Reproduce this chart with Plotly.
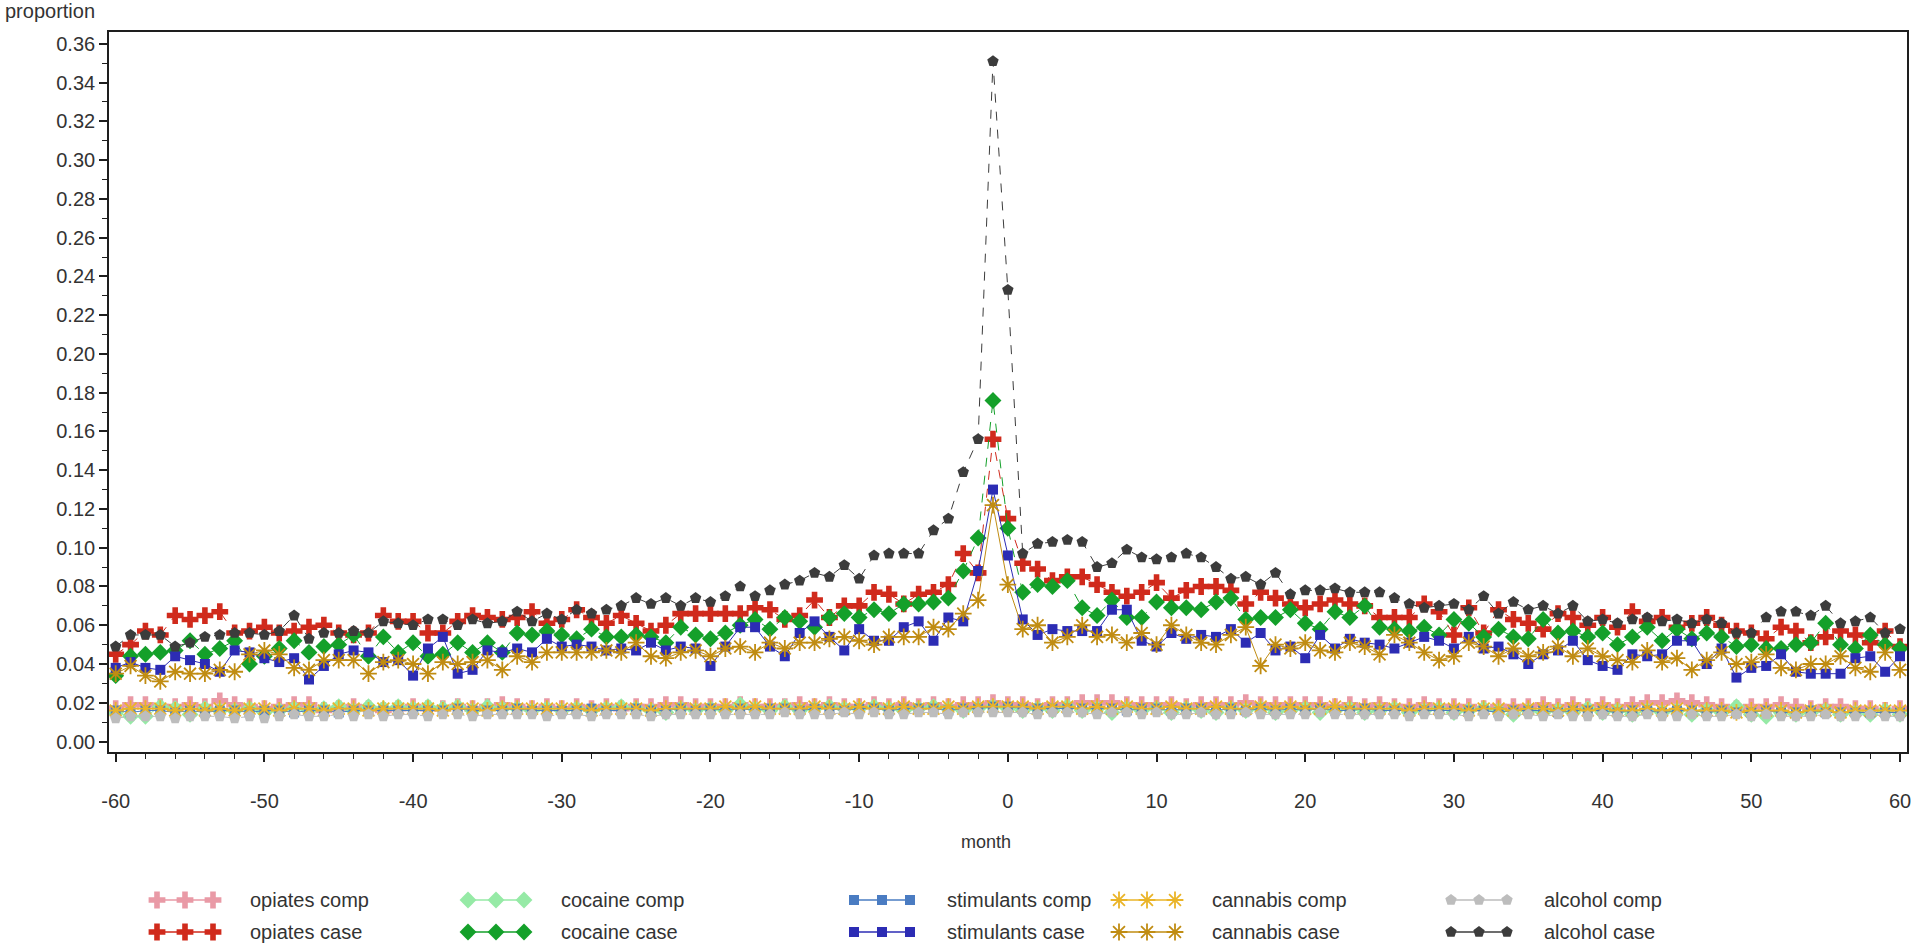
import plotly.graph_objects as go

months = list(range(-60, 61))

# ---------- case series ----------
opiates_case = [
    0.045, 0.050, 0.057, 0.055, 0.065, 0.063, 0.065, 0.067, 0.056, 0.057,
    0.059, 0.056, 0.057, 0.059, 0.060, 0.056, 0.055, 0.056, 0.065, 0.062,
    0.062, 0.056, 0.056, 0.062, 0.065, 0.064, 0.063, 0.064, 0.067, 0.061,
    0.063, 0.068, 0.064, 0.061, 0.065, 0.061, 0.057, 0.060, 0.066, 0.066,
    0.066,
    0.066, 0.066, 0.069, 0.068, 0.063, 0.065, 0.073, 0.064, 0.070, 0.070,
    0.077, 0.076, 0.071, 0.076, 0.077, 0.081, 0.097, 0.087, 0.156,
    0.115, 0.092, 0.089, 0.083, 0.085, 0.085, 0.081, 0.077, 0.075, 0.077,
    0.082, 0.074, 0.078, 0.080, 0.080, 0.078, 0.071, 0.077, 0.074, 0.071,
    0.069,
    0.071, 0.073, 0.071, 0.070, 0.064, 0.064, 0.064, 0.071, 0.067, 0.055,
    0.069, 0.056, 0.068, 0.063, 0.061, 0.058, 0.066, 0.064, 0.060, 0.064,
    0.059, 0.067, 0.062, 0.064, 0.059, 0.061, 0.064, 0.060, 0.057, 0.056,
    0.053, 0.059, 0.057, 0.051, 0.054, 0.057, 0.055, 0.051, 0.057, 0.049,
]

cocaine_case = [
    0.034, 0.044, 0.045, 0.046, 0.047, 0.052, 0.045, 0.048, 0.052, 0.040,
    0.044, 0.048, 0.052, 0.046, 0.049, 0.050, 0.055, 0.044, 0.054, 0.046,
    0.051, 0.044, 0.045, 0.051, 0.046, 0.051, 0.046, 0.056,
    0.055, 0.057, 0.055, 0.053, 0.058, 0.054, 0.054, 0.055, 0.054, 0.051,
    0.059, 0.055, 0.053,
    0.056, 0.060, 0.063, 0.058, 0.064, 0.062, 0.059, 0.064, 0.066, 0.064,
    0.068, 0.066, 0.071, 0.071, 0.072, 0.074, 0.088, 0.105, 0.176,
    0.110, 0.077, 0.081, 0.080, 0.083, 0.069, 0.065, 0.073, 0.064, 0.064,
    0.072, 0.069, 0.069, 0.068, 0.072, 0.074, 0.063, 0.064, 0.064, 0.068,
    0.061,
    0.058, 0.067, 0.064, 0.070, 0.059, 0.058, 0.057, 0.059, 0.055, 0.063,
    0.061, 0.054, 0.058, 0.054, 0.053, 0.063, 0.056, 0.057, 0.054, 0.056,
    0.050, 0.054, 0.059, 0.052, 0.058, 0.053, 0.056, 0.054, 0.049, 0.050,
    0.048, 0.048, 0.050, 0.051, 0.061, 0.050, 0.048, 0.055, 0.050, 0.048,
]

stimulants_case = [
    0.038, 0.041, 0.038, 0.037, 0.044, 0.042, 0.040, 0.036, 0.047, 0.046,
    0.043, 0.041, 0.043, 0.032, 0.039, 0.045, 0.047, 0.046, 0.041, 0.042,
    0.034, 0.048, 0.054, 0.035, 0.037, 0.047, 0.046, 0.048, 0.046, 0.053,
    0.049, 0.050, 0.049, 0.047, 0.048, 0.047, 0.051, 0.047, 0.049, 0.048,
    0.039,
    0.049, 0.059, 0.059, 0.049, 0.044, 0.056, 0.062, 0.054, 0.047, 0.058,
    0.052, 0.052, 0.059, 0.062, 0.052, 0.064, 0.062, 0.088, 0.130,
    0.096, 0.063, 0.055, 0.058, 0.057, 0.057, 0.057, 0.068, 0.068, 0.052,
    0.049, 0.056, 0.053, 0.055, 0.054, 0.058, 0.051, 0.056, 0.047, 0.049,
    0.043,
    0.055, 0.048, 0.053, 0.051, 0.050, 0.048, 0.051, 0.054, 0.052, 0.048,
    0.054, 0.048, 0.049, 0.045, 0.040, 0.045, 0.047, 0.052, 0.042, 0.039,
    0.037, 0.045, 0.044, 0.045, 0.052, 0.052, 0.040, 0.048, 0.033, 0.038,
    0.039, 0.045, 0.036, 0.035, 0.035, 0.035, 0.043, 0.044, 0.036, 0.044,
]

cannabis_case = [
    0.035, 0.039, 0.034, 0.031, 0.036, 0.035, 0.035, 0.037, 0.036, 0.045,
    0.047, 0.045, 0.038, 0.037, 0.042, 0.042, 0.042, 0.035, 0.041, 0.042,
    0.040, 0.035, 0.041, 0.040, 0.041, 0.042, 0.037, 0.044,
    0.041, 0.046, 0.046, 0.046, 0.046, 0.047, 0.046, 0.051, 0.044, 0.043,
    0.046, 0.047, 0.044,
    0.048, 0.049, 0.046, 0.051, 0.048, 0.051, 0.051, 0.053, 0.054, 0.052,
    0.050, 0.054, 0.054, 0.054, 0.059, 0.058, 0.066, 0.073, 0.122,
    0.081, 0.058, 0.060, 0.051, 0.054, 0.060, 0.054, 0.055, 0.051, 0.056,
    0.050, 0.060, 0.055, 0.051, 0.050, 0.055, 0.059, 0.039, 0.050, 0.048,
    0.051,
    0.047, 0.046, 0.051, 0.049, 0.045, 0.055, 0.051, 0.046, 0.042, 0.044,
    0.051, 0.049, 0.044, 0.048, 0.044, 0.046, 0.049, 0.044, 0.048, 0.044,
    0.042, 0.041, 0.047, 0.041, 0.043, 0.037, 0.042, 0.046, 0.040, 0.041,
    0.045, 0.038, 0.037, 0.040, 0.040, 0.044, 0.038, 0.036, 0.046, 0.037,
]

alcohol_case = [
    0.049, 0.055, 0.055, 0.055, 0.049, 0.051, 0.054, 0.055, 0.056, 0.056,
    0.055, 0.057, 0.065, 0.053, 0.056, 0.056, 0.057, 0.056, 0.062, 0.061,
    0.060, 0.063, 0.063, 0.060, 0.063, 0.061, 0.062, 0.067, 0.062, 0.066,
    0.063, 0.068, 0.066, 0.068, 0.070, 0.074, 0.071, 0.074, 0.070, 0.074,
    0.072,
    0.075, 0.080, 0.075, 0.078, 0.081, 0.083, 0.087, 0.085, 0.091, 0.084,
    0.096, 0.097, 0.097, 0.097, 0.109, 0.115, 0.139, 0.156, 0.351,
    0.233, 0.097, 0.102, 0.103, 0.104, 0.103, 0.090, 0.092, 0.099, 0.095,
    0.094, 0.095, 0.097, 0.095, 0.090, 0.084, 0.085, 0.081, 0.087, 0.076,
    0.078,
    0.078, 0.079, 0.077, 0.077, 0.077, 0.074, 0.071, 0.069, 0.070, 0.071,
    0.068, 0.075, 0.066, 0.072, 0.068, 0.070, 0.066, 0.070, 0.062, 0.063,
    0.061, 0.063, 0.064, 0.062, 0.063, 0.061, 0.063, 0.061, 0.056, 0.056,
    0.064, 0.067, 0.067, 0.065, 0.070, 0.061, 0.062, 0.064, 0.056, 0.058,
]

# ---------- comparison series ----------
opiates_comp = [
    0.017, 0.019, 0.019, 0.018, 0.018, 0.019, 0.018, 0.021, 0.019, 0.018,
    0.017, 0.018, 0.019, 0.019, 0.016, 0.017, 0.018, 0.017, 0.016, 0.017,
    0.018, 0.017, 0.017, 0.018, 0.017, 0.018, 0.019, 0.018, 0.017, 0.018,
    0.017, 0.018, 0.017, 0.018, 0.017, 0.018, 0.018, 0.019, 0.019, 0.018,
    0.018, 0.018, 0.019, 0.018, 0.018, 0.018, 0.019, 0.018, 0.019, 0.018,
    0.018, 0.019, 0.018, 0.019, 0.018, 0.019, 0.018, 0.019, 0.019, 0.020,
    0.019, 0.019, 0.018, 0.019, 0.019, 0.020, 0.020, 0.020, 0.019, 0.019,
    0.019, 0.019, 0.018, 0.019, 0.019, 0.019, 0.020, 0.019, 0.019, 0.019,
    0.019, 0.019, 0.018, 0.019, 0.018, 0.019, 0.018, 0.018, 0.019, 0.018,
    0.018, 0.018, 0.017, 0.018, 0.018, 0.018, 0.019, 0.018, 0.019, 0.018,
    0.019, 0.018, 0.019, 0.020, 0.020, 0.021, 0.020, 0.019, 0.018, 0.017,
    0.018, 0.018, 0.019, 0.018, 0.017, 0.018, 0.018, 0.017, 0.017, 0.016,
    0.017,
]

cocaine_comp = [
    0.015, 0.013, 0.013, 0.018, 0.017, 0.014, 0.017, 0.016, 0.016, 0.017,
    0.015, 0.016, 0.017, 0.016, 0.017, 0.018, 0.016, 0.018, 0.017, 0.018,
    0.017, 0.018, 0.017, 0.018, 0.016, 0.018, 0.017, 0.017, 0.016, 0.017,
    0.016, 0.017, 0.016, 0.017, 0.018, 0.017, 0.016, 0.015, 0.017, 0.016,
    0.017, 0.016, 0.019, 0.017, 0.016, 0.018, 0.016, 0.017, 0.018, 0.017,
    0.017, 0.018, 0.017, 0.016, 0.017, 0.018, 0.017, 0.016, 0.017, 0.018,
    0.017, 0.016, 0.017, 0.016, 0.018, 0.016, 0.017, 0.015, 0.017, 0.016,
    0.017, 0.015, 0.017, 0.016, 0.015, 0.017, 0.016, 0.017, 0.015, 0.016,
    0.017, 0.015, 0.016, 0.017, 0.015, 0.016, 0.017, 0.015, 0.016, 0.017,
    0.015, 0.016, 0.017, 0.016, 0.014, 0.016, 0.015, 0.016, 0.015, 0.017,
    0.015, 0.016, 0.014, 0.016, 0.015, 0.016, 0.014, 0.016, 0.015, 0.018,
    0.014, 0.013, 0.015, 0.014, 0.015, 0.016, 0.014, 0.015, 0.014, 0.016,
    0.014,
]

stimulants_comp = [
    0.016, 0.015, 0.016, 0.016, 0.015, 0.016, 0.015, 0.016, 0.016, 0.015,
    0.016, 0.016, 0.015, 0.016, 0.016, 0.015, 0.016, 0.016, 0.016, 0.016,
    0.016, 0.016, 0.016, 0.017, 0.016, 0.016, 0.016, 0.017, 0.016, 0.016,
    0.016, 0.016, 0.017, 0.016, 0.016, 0.017, 0.016, 0.016, 0.017, 0.016,
    0.017, 0.016, 0.017, 0.016, 0.017, 0.017, 0.016, 0.017, 0.017, 0.016,
    0.017, 0.017, 0.016, 0.017, 0.017, 0.017, 0.016, 0.017, 0.017, 0.018,
    0.018, 0.017, 0.017, 0.017, 0.017, 0.017, 0.017, 0.017, 0.016, 0.017,
    0.017, 0.016, 0.017, 0.017, 0.016, 0.017, 0.016, 0.017, 0.016, 0.017,
    0.016, 0.017, 0.016, 0.016, 0.017, 0.016, 0.016, 0.016, 0.016, 0.016,
    0.016, 0.016, 0.016, 0.015, 0.016, 0.016, 0.016, 0.015, 0.016, 0.016,
    0.016, 0.015, 0.016, 0.016, 0.015, 0.016, 0.016, 0.015, 0.016, 0.015,
    0.015, 0.016, 0.015, 0.015, 0.016, 0.015, 0.015, 0.015, 0.015, 0.015,
    0.015,
]

cannabis_comp = [
    0.016, 0.017, 0.017, 0.017, 0.016, 0.017, 0.016, 0.017, 0.016, 0.017,
    0.017, 0.016, 0.017, 0.017, 0.016, 0.017, 0.017, 0.016, 0.017, 0.017,
    0.017, 0.017, 0.016, 0.017, 0.017, 0.016, 0.017, 0.017, 0.017, 0.017,
    0.017, 0.017, 0.016, 0.017, 0.017, 0.017, 0.016, 0.017, 0.017, 0.017,
    0.017, 0.018, 0.017, 0.018, 0.017, 0.017, 0.017, 0.018, 0.017, 0.017,
    0.018, 0.017, 0.017, 0.018, 0.017, 0.017, 0.018, 0.017, 0.018, 0.018,
    0.018, 0.018, 0.017, 0.018, 0.018, 0.017, 0.018, 0.017, 0.018, 0.017,
    0.017, 0.018, 0.017, 0.017, 0.018, 0.017, 0.017, 0.018, 0.017, 0.018,
    0.017, 0.017, 0.018, 0.017, 0.017, 0.017, 0.017, 0.016, 0.017, 0.017,
    0.017, 0.016, 0.017, 0.017, 0.016, 0.017, 0.017, 0.016, 0.017, 0.016,
    0.017, 0.016, 0.016, 0.017, 0.016, 0.017, 0.016, 0.016, 0.016, 0.015,
    0.016, 0.016, 0.016, 0.015, 0.016, 0.016, 0.015, 0.016, 0.016, 0.016,
    0.016,
]

alcohol_comp = [
    0.012, 0.013, 0.013, 0.013, 0.012, 0.013, 0.013, 0.013, 0.012, 0.013,
    0.012, 0.013, 0.014, 0.013, 0.013, 0.014, 0.013, 0.014, 0.013, 0.014,
    0.014, 0.013, 0.014, 0.014, 0.013, 0.014, 0.014, 0.014, 0.014, 0.013,
    0.014, 0.014, 0.013, 0.014, 0.014, 0.014, 0.013, 0.014, 0.014, 0.014,
    0.014, 0.014, 0.014, 0.014, 0.014, 0.015, 0.014, 0.014, 0.014, 0.015,
    0.014, 0.015, 0.014, 0.014, 0.015, 0.015, 0.014, 0.015, 0.015, 0.015,
    0.015, 0.015, 0.014, 0.015, 0.015, 0.015, 0.014, 0.015, 0.015, 0.014,
    0.015, 0.014, 0.014, 0.015, 0.014, 0.014, 0.015, 0.014, 0.014, 0.014,
    0.014, 0.015, 0.014, 0.014, 0.014, 0.014, 0.014, 0.013, 0.014, 0.014,
    0.014, 0.013, 0.014, 0.013, 0.014, 0.014, 0.013, 0.014, 0.013, 0.013,
    0.014, 0.013, 0.013, 0.014, 0.013, 0.013, 0.014, 0.013, 0.013, 0.014,
    0.013, 0.014, 0.013, 0.013, 0.013, 0.014, 0.013, 0.013, 0.014, 0.013,
    0.013,
]

x_tick_values = [-60, -50, -40, -30, -20, -10, 0, 10, 20, 30, 40, 50, 60]
x_tick_labels = ["-60", "-50", "-40", "-30", "-20", "-10", "0",
                 "10", "20", "30", "40", "50", "60"]

FONT = "Liberation Sans, Arial, sans-serif"
TXT = "#333333"
AX = "#1e1e1e"

# name, data, color, symbol, size, dash
series = [
    ("opiates comp", opiates_comp, "#E99AA6", "cross", 14, "dash"),
    ("opiates case", opiates_case, "#D02A1C", "cross", 14, "dash"),
    ("cocaine comp", cocaine_comp, "#96EAA6", "diamond", 13, "dash"),
    ("cocaine case", cocaine_case, "#14A02A", "diamond", 13, "dash"),
    ("stimulants comp", stimulants_comp, "#4A7CC2", "square", 10, "solid"),
    ("stimulants case", stimulants_case, "#2C2CB4", "square", 10, "solid"),
    ("cannabis comp", cannabis_comp, "#EAB428", "asterisk-open", 14, "solid"),
    ("cannabis case", cannabis_case, "#C08C12", "asterisk-open", 14, "solid"),
    ("alcohol comp", alcohol_comp, "#BDBDBD", "pentagon", 12, "dash"),
    ("alcohol case", alcohol_case, "#3C3C3C", "pentagon", 12, "dash"),
]

# page geometry (pixels)
W, H = 1914, 947
PL, PR, PT, PB = 109, 1907, 32, 752      # plot frame
LEG_TEXT_X = [248, 559, 945, 1210, 1542]  # legend column text starts
LEG_ROW_Y = [900, 932]                    # comp row, case row
LEG_SAMPLE_DX = [-91, -63, -35]           # sample marker offsets from text


def marker_of(color, symbol, size):
    m = dict(symbol=symbol, size=size, color=color)
    if symbol.endswith("-open"):
        m["line"] = dict(color=color, width=1.8)
    else:
        m["line"] = dict(width=0)
    return m


fig = go.Figure()
for name, data, color, symbol, size, dash in series:
    fig.add_trace(go.Scatter(
        x=months, y=data, name=name, mode="lines+markers",
        line=dict(color=color, width=1, dash=dash),
        marker=marker_of(color, symbol, size),
        showlegend=False, xaxis="x", yaxis="y",
    ))

# legend samples (three markers joined by a line), drawn on a pixel overlay
annotations = []
for i, (name, data, color, symbol, size, dash) in enumerate(series):
    col, row = i // 2, i % 2
    tx, ty = LEG_TEXT_X[col], LEG_ROW_Y[row]
    fig.add_trace(go.Scatter(
        x=[tx + d for d in LEG_SAMPLE_DX], y=[ty] * 3,
        mode="lines+markers",
        line=dict(color=color, width=1.5, dash="solid"),
        marker=marker_of(color, symbol, size),
        showlegend=False, hoverinfo="skip", xaxis="x2", yaxis="y2",
    ))
    annotations.append(dict(
        text=name, xref="paper", yref="paper",
        x=tx / W, y=1 - ty / H, xanchor="left", yanchor="middle",
        showarrow=False, font=dict(family=FONT, size=20, color=TXT),
    ))

annotations.append(dict(
    text="proportion", xref="paper", yref="paper", x=3 / W, y=1 - 11 / H,
    xanchor="left", yanchor="middle", showarrow=False,
    font=dict(family=FONT, size=20, color=TXT)))
annotations.append(dict(
    text="month", xref="paper", yref="paper", x=986 / W, y=1 - 842 / H,
    xanchor="center", yanchor="middle", showarrow=False,
    font=dict(family=FONT, size=18, color=TXT)))

fig.update_layout(
    template="none",
    width=W, height=H,
    margin=dict(l=0, r=0, t=0, b=0, pad=0),
    paper_bgcolor="white", plot_bgcolor="rgba(0,0,0,0)",
    font=dict(family=FONT, size=19, color=TXT),
    showlegend=False,
    xaxis=dict(
        domain=[PL / W, PR / W], anchor="y",
        range=[-60.45, 60.47], tickmode="array",
        tickvals=x_tick_values, ticktext=x_tick_labels,
        ticks="outside", ticklen=8, tickwidth=1.5, tickcolor=AX,
        minor=dict(dtick=2, tick0=0, ticks="outside", ticklen=5,
                   tickwidth=1.2, tickcolor=AX),
        showline=True, linecolor=AX, linewidth=1.6, mirror=True,
        showgrid=False, zeroline=False, automargin=False,
        tickfont=dict(family=FONT, size=20, color=TXT),
        ticklabelstandoff=22, ticklabeloverflow="allow",
    ),
    yaxis=dict(
        domain=[1 - PB / H, 1 - PT / H], anchor="x",
        range=[-0.0054, 0.3661], dtick=0.02, tick0=0, tickformat=".2f",
        ticks="outside", ticklen=8, tickwidth=1.5, tickcolor=AX,
        minor=dict(dtick=0.01, tick0=0, ticks="outside", ticklen=5,
                   tickwidth=1.2, tickcolor=AX),
        showline=True, linecolor=AX, linewidth=1.6, mirror=True,
        showgrid=False, zeroline=False, automargin=False,
        tickfont=dict(family=FONT, size=20, color=TXT),
    ),
    xaxis2=dict(domain=[0, 1], anchor="y2", range=[0, W], visible=False,
                fixedrange=True),
    yaxis2=dict(domain=[0, 1], anchor="x2", range=[H, 0], visible=False,
                fixedrange=True),
    annotations=annotations,
)

fig.write_html(
    "out.html",
    config={"displayModeBar": False},
    post_script="document.body.style.margin='0';document.body.style.overflow='hidden';",
)
